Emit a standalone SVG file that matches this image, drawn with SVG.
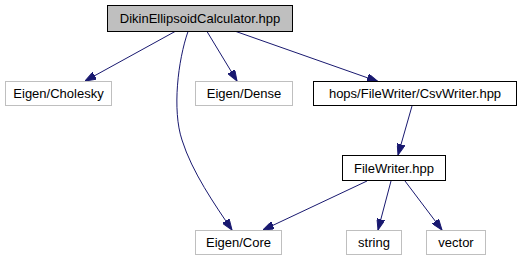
<svg xmlns="http://www.w3.org/2000/svg" width="521" height="261" viewBox="0 0 521 261">
  <style>
    .box { fill: #ffffff; stroke: #000000; stroke-width: 1; }
    .ext { fill: #ffffff; stroke: #bfbfbf; stroke-width: 1; }
    .root { fill: #bfbfbf; stroke: #000000; stroke-width: 1; }
    .lbl { font-family: "Liberation Sans", Arial, sans-serif; font-size: 13px; fill: #000000; text-anchor: middle; }
    .edge { fill: none; stroke: #191970; stroke-width: 1; marker-end: url(#arrow); }
  </style>
  <defs>
    <marker id="arrow" viewBox="0 0 11 8" refX="11" refY="4" markerWidth="11" markerHeight="8" markerUnits="userSpaceOnUse" orient="auto">
      <path d="M0,0 L11,4 L0,8 Z" fill="#191970" stroke="#191970"/>
    </marker>
  </defs>
  <rect width="521" height="261" fill="#ffffff"/>

  <g id="edges">
    <path class="edge" d="M175,31.5 L85,81"/>
    <path class="edge" d="M188,31.5 C178,60 172,110 182,140 C192,172 215,205 232,230"/>
    <path class="edge" d="M207,31.5 L237,81"/>
    <path class="edge" d="M236,31.5 L378,81.5"/>
    <path class="edge" d="M412,106 L398,155"/>
    <path class="edge" d="M367,181 L263,230"/>
    <path class="edge" d="M391,181 L378,230"/>
    <path class="edge" d="M405,181 L442,230"/>
  </g>

  <g id="node-root">
    <rect class="root" x="107.5" y="5.5" width="185" height="26"/>
    <text class="lbl" x="200" y="23">DikinEllipsoidCalculator.hpp</text>
  </g>
  <g id="node-cholesky">
    <rect class="ext" x="5.5" y="81.5" width="106" height="24"/>
    <text class="lbl" x="58.5" y="98">Eigen/Cholesky</text>
  </g>
  <g id="node-dense">
    <rect class="ext" x="195.5" y="81.5" width="97" height="24"/>
    <text class="lbl" x="244" y="98">Eigen/Dense</text>
  </g>
  <g id="node-csvwriter">
    <rect class="box" x="313.5" y="81.5" width="203" height="24"/>
    <text class="lbl" x="415" y="98">hops/FileWriter/CsvWriter.hpp</text>
  </g>
  <g id="node-filewriter">
    <rect class="box" x="342.5" y="155.5" width="103" height="25"/>
    <text class="lbl" x="394" y="172.5">FileWriter.hpp</text>
  </g>
  <g id="node-core">
    <rect class="ext" x="195.5" y="230.5" width="86" height="24"/>
    <text class="lbl" x="238.5" y="247">Eigen/Core</text>
  </g>
  <g id="node-string">
    <rect class="ext" x="346.5" y="230.5" width="55" height="24"/>
    <text class="lbl" x="374" y="247">string</text>
  </g>
  <g id="node-vector">
    <rect class="ext" x="426.5" y="230.5" width="59" height="24"/>
    <text class="lbl" x="456" y="247">vector</text>
  </g>
</svg>
